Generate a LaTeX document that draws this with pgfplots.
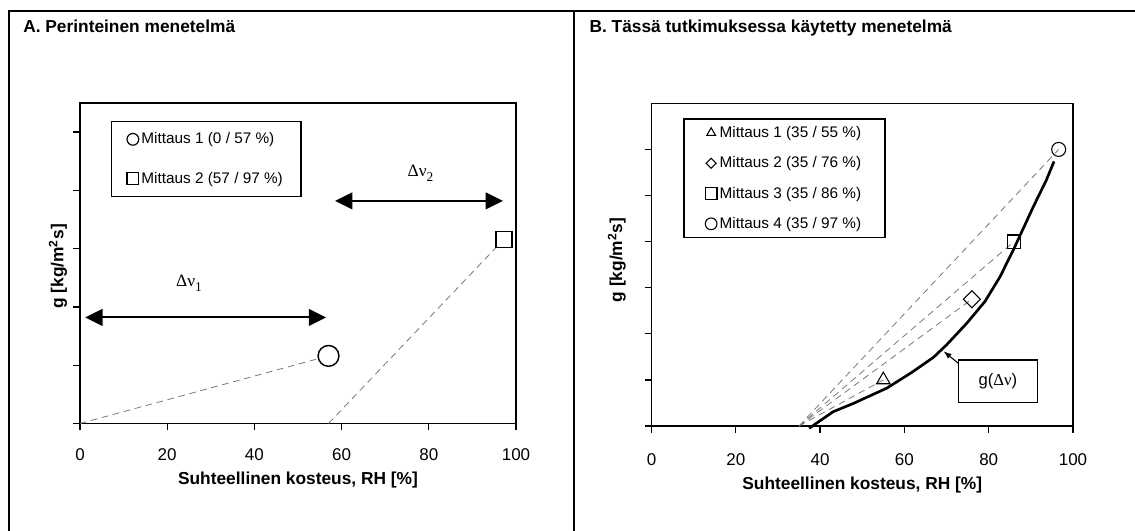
\documentclass[border=0pt]{standalone}
\usepackage{fontspec}
\setmainfont{Liberation Sans}
\newfontfamily\grk{Liberation Serif}
\usepackage{pgfplots}
\pgfplotsset{compat=1.18}
\usetikzlibrary{arrows.meta}
\definecolor{dashgray}{RGB}{120,120,120}
\pgfplotsset{
  common/.style={
    scale only axis, anchor=south west, clip=false,
    xmin=0, xmax=100, xtick={0,20,...,100},
    tick align=outside, major tick length=5.25pt,
    xtick pos=bottom, ytick pos=left,
    yticklabels={},
    axis line style={line width=1pt},
    major tick style={black, line width=1pt},
    /pgf/number format/assume math mode=true,
    xticklabel style={anchor=base, font=\fontsize{12.75}{14}\selectfont},
    xlabel={Suhteellinen kosteus, RH [\%]},
    ylabel={g [kg/m\textsuperscript{2}s]},
    label style={font=\fontsize{13}{15}\selectfont\bfseries},
    legend cell align=left,
    legend image code/.code={\path[draw=none,fill=none] (-4.4pt,-4.4pt) rectangle (4.4pt,4.4pt); \draw[##1] plot coordinates {(0pt,0pt)};},
  },
  dsh/.style={dashgray, line width=0.6pt, dash pattern=on 5pt off 3.5pt, forget plot},
}
\begin{document}
\begin{tikzpicture}
\useasboundingbox (0,0) rectangle (851.25pt,398.25pt);
\draw[line width=1.5pt] (6.75pt,-5pt) -- (6.75pt,390pt) -- (860pt,390pt);
\draw[line width=1.5pt] (430.5pt,-5pt) -- (430.5pt,390pt);
\node[anchor=base west, inner sep=0pt, font=\fontsize{13}{15}\selectfont\bfseries] at (17.25pt,373.9pt) {A. Perinteinen menetelmä};
\node[anchor=base west, inner sep=0pt, font=\fontsize{13}{15}\selectfont\bfseries] at (442pt,373.9pt) {B. Tässä tutkimuksessa käytetty menetelmä};

% Panel A
\begin{axis}[common,
  at={(60pt,80.625pt)}, width=327pt, height=240.375pt,
  ymin=0, ymax=5.5, ytick={0,...,5},
  xticklabel style={yshift=-22.7pt},
  xlabel style={at={(axis description cs:0.5,0)}, anchor=base, yshift=-45.4pt},
  ylabel style={at={(axis description cs:-0.0505,0.49)}, anchor=center},
  legend style={at={(0.0711,0.9445)}, anchor=north west, draw=black, line width=1pt,
    font=\fontsize{11.5}{13}\selectfont, inner xsep=11.5pt, inner ysep=6.5pt, row sep=15.7pt},
]
\addlegendimage{only marks, mark=o, mark size=4.4pt, line width=0.9pt}
\addlegendentry{Mittaus 1 (0 / 57 \%)}
\addlegendimage{only marks, mark=square, mark size=4.4pt, line width=0.9pt}
\addlegendentry{Mittaus 2 (57 / 97 \%)\rule[-5.7pt]{0pt}{5.7pt}}
\addplot[dsh] coordinates {(0,0) (57,1.16)};
\addplot[dsh] coordinates {(57,0) (97.2,3.16)};
\addplot[only marks, mark=*, mark size=7.8pt, line width=1.1pt, mark options={draw=black, fill=white}, forget plot] coordinates {(57,1.16)};
\addplot[only marks, mark=square*, mark size=6pt, line width=1.1pt, mark options={draw=black, fill=white}, forget plot] coordinates {(97.2,3.16)};
\draw[line width=1.5pt, {Triangle[length=13pt,width=12.5pt]}-{Triangle[length=13pt,width=12.5pt]}] (axis cs:1.2,1.82) -- (axis cs:56.45,1.82);
\draw[line width=1.5pt, {Triangle[length=13pt,width=12.5pt]}-{Triangle[length=13pt,width=12.5pt]}] (axis cs:58.5,3.82) -- (axis cs:97.0,3.82);
\node[font=\fontsize{13}{15}\selectfont] at (axis cs:25,2.41) {{\grk Δν}\raisebox{-3.5pt}{\fontsize{10}{12}\selectfont\grk 1}};
\node[font=\fontsize{13}{15}\selectfont] at (axis cs:78.1,4.29) {{\grk Δν}\raisebox{-3.5pt}{\fontsize{10}{12}\selectfont\grk 2}};
\end{axis}

% Panel B
\begin{axis}[common,
  at={(488.625pt,78.75pt)}, width=316.125pt, height=242pt,
  ymin=0, ymax=7, ytick={0,...,6},
  xticklabel style={yshift=-24.2pt},
  xlabel style={at={(axis description cs:0.5,0)}, anchor=base, yshift=-47.8pt},
  ylabel style={at={(axis description cs:-0.0822,0.514)}, anchor=center},
  legend style={at={(0.0754,0.9535)}, anchor=north west, draw=black, line width=1pt,
    font=\fontsize{11.5}{13}\selectfont, inner xsep=16pt, inner ysep=3.5pt, row sep=8.9pt},
]
\addlegendimage{only marks, mark=triangle, mark size=3.85pt, line width=0.8pt}
\addlegendentry{Mittaus 1 (35 / 55 \%)}
\addlegendimage{only marks, mark=square, mark size=2.65pt, line width=0.8pt, mark options={rotate=45}}
\addlegendentry{Mittaus 2 (35 / 76 \%)}
\addlegendimage{only marks, mark=square, mark size=4.4pt, line width=1pt}
\addlegendentry{Mittaus 3 (35 / 86 \%)}
\addlegendimage{only marks, mark=o, mark size=4.4pt, line width=0.8pt}
\addlegendentry{Mittaus 4 (35 / 97 \%)\rule[-8.9pt]{0pt}{8.9pt}}
\addplot[dsh] coordinates {(35,0) (55,1)};
\addplot[dsh] coordinates {(35,0) (76,2.75)};
\addplot[dsh] coordinates {(35,0) (86,4)};
\addplot[dsh] coordinates {(35,0) (96.6,6)};
\addplot[black, line width=2pt, forget plot] coordinates {
 (37.4,-0.05) (43.1,0.31) (47.9,0.49) (55.8,0.82) (61.7,1.16) (66.9,1.49)
 (70.0,1.76) (74.8,2.23) (79.1,2.70) (82.7,3.24) (86.0,3.85) (90.6,4.76)
 (93.7,5.34) (95.5,5.74)};
\addplot[only marks, mark=triangle, mark size=5.8pt, line width=0.8pt, forget plot] coordinates {(55,1)};
\addplot[only marks, mark=square, mark size=4.5pt, line width=0.8pt, mark options={rotate=45}, forget plot] coordinates {(76,2.75)};
\addplot[only marks, mark=square, mark size=5pt, line width=1pt, forget plot] coordinates {(86,4)};
\addplot[only marks, mark=o, mark size=5.25pt, line width=0.8pt, forget plot] coordinates {(96.6,6)};
\node[draw, line width=1pt, minimum width=59.25pt, minimum height=31.7pt, inner sep=0pt, font=\fontsize{12.5}{14}\selectfont] at (axis cs:82.2,0.97) {g({\grk Δν})};
\draw[line width=0.8pt, -{Latex[length=6pt,width=4.5pt]}] (axis cs:72.8,1.36) -- (axis cs:69.3,1.62);
\end{axis}
\end{tikzpicture}
\end{document}
